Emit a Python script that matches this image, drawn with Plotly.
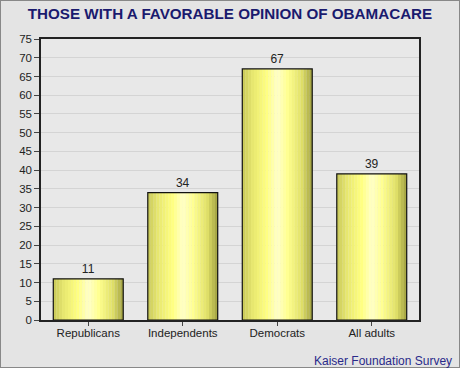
import plotly.graph_objects as go

categories = ["Republicans", "Independents", "Democrats", "All adults"]
values = [11, 34, 67, 39]
y_ticks = list(range(0, 80, 5))

BAR_W = 0.74
stops = [(0.0, (200, 200, 88)), (0.15, (232, 232, 112)), (0.35, (255, 255, 128)),
         (0.5, (255, 255, 200)), (0.65, (255, 255, 144)), (0.85, (224, 224, 104)),
         (1.0, (160, 160, 64))]

def grad(t):
    for (a, ca), (b, cb) in zip(stops[:-1], stops[1:]):
        if a <= t <= b:
            f = (t - a) / (b - a)
            return "rgb(%d,%d,%d)" % tuple(round(ca[i] + (cb[i] - ca[i]) * f) for i in range(3))
    return "rgb(160,160,64)"

fig = go.Figure()
N = 24
sw = BAR_W / N
for i in range(N):
    fig.add_trace(go.Bar(x=categories, y=values, width=sw * 1.05, offset=-BAR_W / 2 + i * sw,
                         marker=dict(color=grad((i + 0.5) / N), line=dict(width=0)),
                         hoverinfo="skip", showlegend=False))
fig.add_trace(go.Bar(x=categories, y=values, width=BAR_W, offset=-BAR_W / 2,
                     marker=dict(color="rgba(0,0,0,0)", line=dict(color="#111", width=1.2)),
                     text=[str(v) for v in values], textposition="outside",
                     textfont=dict(family="Liberation Sans, Arial", size=12, color="#222"),
                     cliponaxis=False, showlegend=False))

fig.update_layout(
    width=460, height=368, barmode="overlay",
    margin=dict(l=41, r=41, t=39, b=48),
    paper_bgcolor="#e4e4e4", plot_bgcolor="#e8e8e8",
    font=dict(family="Liberation Sans, Arial", size=11, color="#333"),
    title=dict(text="<b>THOSE WITH A FAVORABLE OPINION OF OBAMACARE</b>", x=0.5, xanchor="center",
               y=1 - 14 / 368, yanchor="middle", yref="container",
               font=dict(family="Liberation Sans, Arial", size=15.2, color="#1a1a6e")),
    xaxis=dict(showline=True, linecolor="#222", linewidth=1.5, mirror=True, ticks="outside",
               ticklen=4, tickcolor="#444", ticklabelstandoff=-3,
               tickfont=dict(size=11.5, color="#222")),
    yaxis=dict(range=[0, 75], tickvals=y_ticks, showline=True, linecolor="#222", linewidth=1.5,
               mirror=True, ticks="outside", ticklen=5, tickcolor="#444", showgrid=True,
               gridcolor="#d4d4d4", gridwidth=1, zeroline=False, tickfont=dict(size=11.5, color="#222")),
    annotations=[dict(text="Kaiser Foundation Survey", xref="paper", yref="paper", x=1 + 35 / 378,
                      y=-41 / 281, xanchor="right", yanchor="middle", showarrow=False,
                      font=dict(family="Liberation Sans, Arial", size=12, color="#2a2a8a"))],
    shapes=[dict(type="rect", xref="paper", yref="paper", x0=-41 / 378, x1=1 + 41 / 378,
                 y0=-48 / 281, y1=1 + 39 / 281, line=dict(color="#888", width=2))],
)
fig.write_html("out.html", config={"displayModeBar": False},
               post_script="document.body.style.margin='0';document.body.style.padding='0';")
